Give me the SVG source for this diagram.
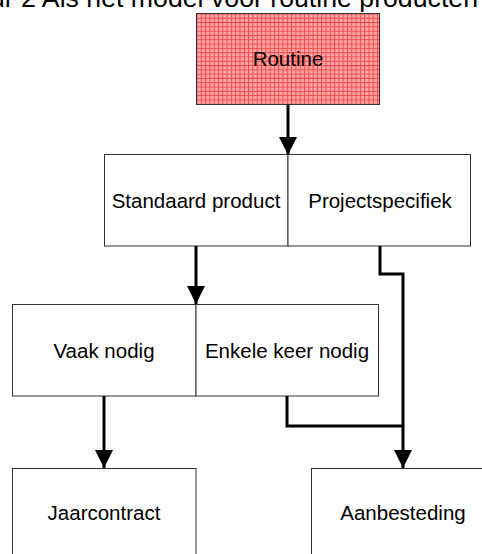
<svg xmlns="http://www.w3.org/2000/svg" width="482" height="554" viewBox="0 0 482 554">
  <style>
    .box { fill: #ffffff; stroke: #333333; stroke-width: 1; }
    .lbl { font-family: "Liberation Sans", Arial, sans-serif; font-size: 20.5px; fill: #000000; text-anchor: middle; }
    .title { font-family: "Liberation Sans", Arial, sans-serif; font-size: 26.7px; fill: #000000; text-anchor: end; }
    .conn { fill: none; stroke: #000000; stroke-width: 3; stroke-linejoin: miter; stroke-linecap: butt; }
  </style>
  <defs>
    <!-- small red grid fill -->
    <pattern id="grid" x="196.5" y="13.5" width="4.3" height="4.3" patternUnits="userSpaceOnUse">
      <rect width="4.3" height="4.3" fill="#ff9e9e"/>
      <path d="M0 0.5H4.3M0.5 0V4.3" stroke="#f24848" stroke-width="0.9"/>
      <rect x="2.4" y="2.4" width="0.8" height="0.8" fill="#ffcccc"/>
    </pattern>
    <marker id="arrow" viewBox="0 0 18 18" refX="18" refY="9" markerWidth="18" markerHeight="18" markerUnits="userSpaceOnUse" orient="auto">
      <path d="M0 0L18 9L0 18Z" fill="#000000"/>
    </marker>
  </defs>

  <text class="title" x="478" y="7">Figuur 2 Als het model voor routine producten</text>

  <g id="routine">
    <rect x="196.5" y="13.5" width="183" height="91" fill="url(#grid)" stroke="#333333" stroke-width="1"/>
    <text class="lbl" x="288" y="66">Routine</text>
  </g>

  <g id="standaard-product">
    <rect class="box" x="104.5" y="154.5" width="183.5" height="91.5"/>
    <text class="lbl" x="196" y="208">Standaard product</text>
  </g>
  <g id="projectspecifiek">
    <rect class="box" x="288" y="154.5" width="182.5" height="91.5"/>
    <text class="lbl" x="380" y="208">Projectspecifiek</text>
  </g>

  <g id="vaak-nodig">
    <rect class="box" x="12.5" y="304.5" width="183.5" height="91.5"/>
    <text class="lbl" x="104" y="358">Vaak nodig</text>
  </g>
  <g id="enkele-keer-nodig">
    <rect class="box" x="196" y="304.5" width="182.5" height="91.5"/>
    <text class="lbl" x="287" y="358">Enkele keer nodig</text>
  </g>

  <g id="jaarcontract">
    <rect class="box" x="12.5" y="468.5" width="183.5" height="100"/>
    <text class="lbl" x="104" y="520">Jaarcontract</text>
  </g>
  <g id="aanbesteding">
    <rect class="box" x="311.5" y="468.5" width="183.5" height="100"/>
    <text class="lbl" x="403" y="520">Aanbesteding</text>
  </g>

  <g id="connectors">
    <path class="conn" d="M288 105V155" marker-end="url(#arrow)"/>
    <path class="conn" d="M196 246V304" marker-end="url(#arrow)"/>
    <path class="conn" d="M104 396V468" marker-end="url(#arrow)"/>
    <path class="conn" d="M380 246V274H403V468" marker-end="url(#arrow)"/>
    <path class="conn" d="M287 396V426H403"/>
  </g>
</svg>
